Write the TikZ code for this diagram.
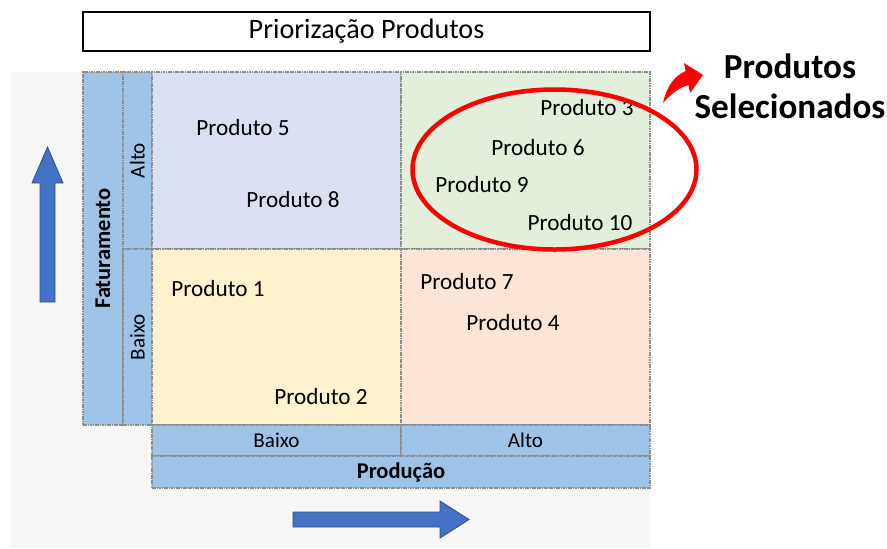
\documentclass[tikz,border=0pt]{standalone}
\usepackage{fontspec}
\setmainfont{Carlito}
\usepackage{graphicx}
\usetikzlibrary{positioning, shapes.geometric, arrows.meta}

\definecolor{axisblue}{HTML}{9DC3E6}
\definecolor{quadlav}{HTML}{DAE0F2}
\definecolor{quadgreen}{HTML}{E2EFDA}
\definecolor{quadyellow}{HTML}{FFF2CC}
\definecolor{quadpeach}{HTML}{FCE4D6}
\definecolor{gridgray}{HTML}{8C8C8C}
\definecolor{bggray}{HTML}{F7F7F7}
\definecolor{blockblue}{HTML}{4472C4}
\definecolor{blockedge}{HTML}{2F528F}
\definecolor{selred}{HTML}{FF0000}

% one unit = one pixel of the layout
\newcommand{\pxu}{0.025cm}

\begin{document}
\begin{tikzpicture}[
    x=\pxu, y=-\pxu,
    every node/.style={inner sep=0pt, outer sep=0pt},
    cell/.style={rectangle, anchor=north west, draw=gridgray, line width=0.8pt, dash pattern=on 1.2pt off 0.5pt},
    axis/.style={cell, fill=axisblue},
    prod/.style={font=\fontsize{16.5}{20}\selectfont},
    lbl/.style={font=\fontsize{15}{18}\selectfont},
    boldlbl/.style={font=\bfseries\fontsize{16}{19}\selectfont},
    block/.style={fill=blockblue, draw=blockedge, line width=0.6pt}
]
    \useasboundingbox (0,0) rectangle (887,548);
    \fill[bggray] (10,72) rectangle (650,548);

    % --- title ---
    \node[draw=black, line width=0.8pt, fill=white, anchor=north west,
          minimum width=567*\pxu, minimum height=39*\pxu,
          font=\fontsize{20}{24}\selectfont] (title) at (83,12) {Priorização Produtos};

    % --- vertical axis (Faturamento) ---
    \node[axis, minimum width=40*\pxu, minimum height=353*\pxu, boldlbl] (fat) at (83,72)
        {\rotatebox{90}{Faturamento}};
    \node[axis, minimum width=29*\pxu, minimum height=177*\pxu, lbl] (fatalto) at (123,72)
        {\rotatebox{90}{Alto}};
    \node[axis, minimum width=29*\pxu, minimum height=176*\pxu, lbl] (fatbaixo) at (123,249)
        {\rotatebox{90}{Baixo}};

    % --- quadrants ---
    \node[cell, fill=quadlav, minimum width=249*\pxu, minimum height=177*\pxu] (q1) at (152,72) {};
    \node[cell, fill=quadgreen, minimum width=249*\pxu, minimum height=177*\pxu] (q2) at (401,72) {};
    \node[cell, fill=quadyellow, minimum width=249*\pxu, minimum height=176*\pxu] (q3) at (152,249) {};
    \node[cell, fill=quadpeach, minimum width=249*\pxu, minimum height=176*\pxu] (q4) at (401,249) {};

    % --- horizontal axis (Produção) ---
    \node[axis, minimum width=249*\pxu, minimum height=31*\pxu, lbl] (prodbaixo) at (152,425) {Baixo};
    \node[axis, minimum width=249*\pxu, minimum height=31*\pxu, lbl] (prodalto) at (401,425) {Alto};
    \node[axis, minimum width=498*\pxu, minimum height=32*\pxu, boldlbl] (prodaxis) at (152,456) {Produção};

    % --- products ---
    \node[prod] (p5) at (243,128) {Produto 5};
    \node[prod] (p8) at (293,200) {Produto 8};
    \node[prod] (p3) at (587,108) {Produto 3};
    \node[prod] (p6) at (538,148) {Produto 6};
    \node[prod] (p9) at (482,185) {Produto 9};
    \node[prod] (p10) at (580,223) {Produto 10};
    \node[prod] (p1) at (218,289) {Produto 1};
    \node[prod] (p2) at (321,397) {Produto 2};
    \node[prod] (p7) at (467,282) {Produto 7};
    \node[prod] (p4) at (513,323) {Produto 4};

    % --- selection ---
    \node[ellipse, draw=selred, line width=3.2pt,
          minimum width=284*\pxu, minimum height=160*\pxu] (sel) at (554.5,169.5) {};
    \node[align=center, font=\bfseries\fontsize{25}{28.5}\selectfont] (sellabel) at (790,86)
        {Produtos\\Selecionados};
    \coordinate (selfoot) at (663,103);
    \coordinate (seltip) at (703,75);
    % tapered curved arrow
    \fill[selred] (selfoot) .. controls (667,85) and (675,76) .. (685.6,71)
        -- (684,63) -- (seltip) -- (690,93) -- (688.4,85)
        .. controls (678,88) and (670,95) .. (selfoot) -- cycle;

    % --- direction arrows ---
    \draw[block] (40,302) -- (40,183) -- (32,183) -- (47.5,147) -- (63,183) -- (55,183) -- (55,302) -- cycle;
    \draw[block] (293,512) -- (440,512) -- (440,501) -- (469,519.5) -- (440,538) -- (440,527) -- (293,527) -- cycle;
\end{tikzpicture}
\end{document}
